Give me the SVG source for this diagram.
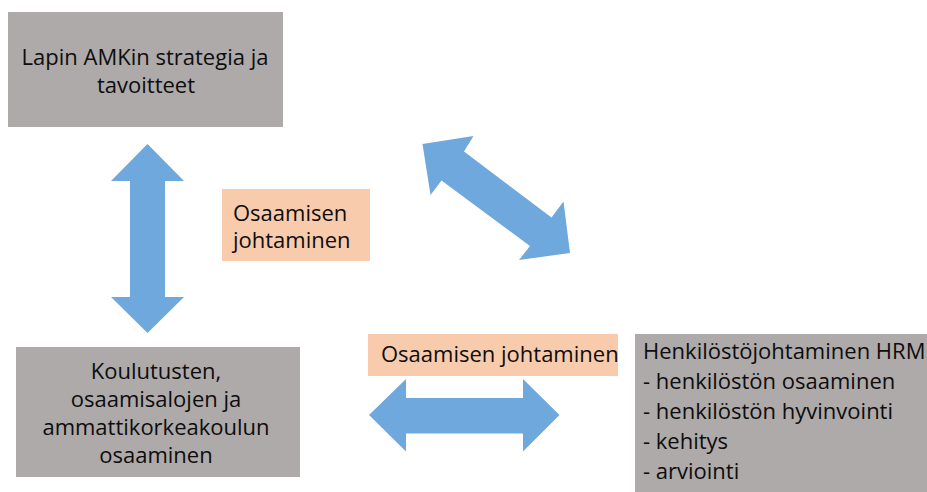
<svg xmlns="http://www.w3.org/2000/svg" width="927" height="492" viewBox="0 0 927 492">
  <style>
    .box { fill: #AEAAAA; }
    .tag { fill: #F8CBAD; }
    .arrow { fill: #6FA8DC; }
    text { font-family: "Open Sans", "Noto Sans", "Liberation Sans", sans-serif; font-size: 22px; fill: #0D0D0D; }
    .c { text-anchor: middle; }
  </style>
  <rect width="927" height="492" fill="#FFFFFF"/>

  <g id="connectors">
    <!-- vertical double arrow: strategy <-> degree programmes -->
    <polygon class="arrow" points="147.5,144 184,181 165,181 165,297 184,297 147.5,333 111,297 130,297 130,181 111,181"/>
    <!-- diagonal double arrow: strategy <-> HRM -->
    <polygon class="arrow" points="422.5,144 473.5,136 464,151.5 551.5,217.5 563.5,201.5 570,253 519,260 530,246 441.5,180.5 430.5,195"/>
    <!-- horizontal double arrow: degree programmes <-> HRM -->
    <polygon class="arrow" points="369,415 406,379 406,398 523,398 523,379 559.5,415 523,451.5 523,433.5 406,433.5 406,451.5"/>
  </g>

  <g id="strategy">
    <rect class="box" x="8" y="12" width="275" height="115"/>
    <text class="c" x="145" y="65">Lapin AMKin strategia ja</text>
    <text class="c" x="146" y="93">tavoitteet</text>
  </g>

  <g id="competence-label-1">
    <rect class="tag" x="222" y="189" width="148" height="72"/>
    <text x="233" y="221">Osaamisen</text>
    <text x="233" y="248">johtaminen</text>
  </g>

  <g id="competence-label-2">
    <rect class="tag" x="368" y="334" width="250" height="42"/>
    <text x="381" y="362">Osaamisen johtaminen</text>
  </g>

  <g id="programmes">
    <rect class="box" x="16" y="347" width="284" height="130"/>
    <text class="c" x="156" y="379">Koulutusten,</text>
    <text class="c" x="156" y="407">osaamisalojen ja</text>
    <text class="c" x="156" y="435">ammattikorkeakoulun</text>
    <text class="c" x="156" y="463">osaaminen</text>
  </g>

  <g id="hrm">
    <rect class="box" x="635" y="334" width="292" height="158"/>
    <text x="643" y="359">Henkilöstöjohtaminen HRM</text>
    <text x="643" y="389">- henkilöstön osaaminen</text>
    <text x="643" y="419">- henkilöstön hyvinvointi</text>
    <text x="643" y="449">- kehitys</text>
    <text x="643" y="479">- arviointi</text>
  </g>
</svg>
